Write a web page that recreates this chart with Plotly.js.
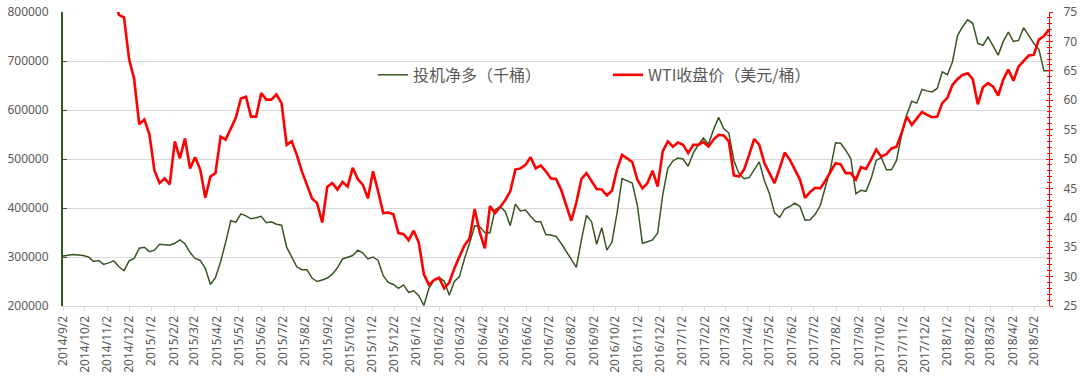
<!DOCTYPE html>
<html>
<head>
<meta charset="utf-8">
<script src="https://cdn.plot.ly/plotly-3.0.1.min.js"></script>
<style>html,body{margin:0;padding:0;background:#fff;}#chart{width:1080px;height:376px;}</style>
</head>
<body>
<div id="chart"></div>
<script>
// Weekly dates (Tuesdays)
var dates = [
"2014-09-02","2014-09-09","2014-09-16","2014-09-23","2014-09-30","2014-10-07","2014-10-14","2014-10-21","2014-10-28","2014-11-04","2014-11-11","2014-11-18","2014-11-25","2014-12-02","2014-12-09","2014-12-16","2014-12-23","2014-12-30",
"2015-01-06","2015-01-13","2015-01-20","2015-01-27","2015-02-03","2015-02-10","2015-02-17","2015-02-24","2015-03-03","2015-03-10","2015-03-17","2015-03-24","2015-03-31","2015-04-07","2015-04-14","2015-04-21","2015-04-28","2015-05-05","2015-05-12","2015-05-19","2015-05-26","2015-06-02","2015-06-09","2015-06-16","2015-06-23","2015-06-30","2015-07-07","2015-07-14","2015-07-21","2015-07-28","2015-08-04","2015-08-11","2015-08-18","2015-08-25","2015-09-01","2015-09-08","2015-09-15","2015-09-22","2015-09-29","2015-10-06","2015-10-13","2015-10-20","2015-10-27","2015-11-03","2015-11-10","2015-11-17","2015-11-24","2015-12-01","2015-12-08","2015-12-15","2015-12-22","2015-12-29",
"2016-01-05","2016-01-12","2016-01-19","2016-01-26","2016-02-02","2016-02-09","2016-02-16","2016-02-23","2016-03-01","2016-03-08","2016-03-15","2016-03-22","2016-03-29","2016-04-05","2016-04-12","2016-04-19","2016-04-26","2016-05-03","2016-05-10","2016-05-17","2016-05-24","2016-05-31","2016-06-07","2016-06-14","2016-06-21","2016-06-28","2016-07-05","2016-07-12","2016-07-19","2016-07-26","2016-08-02","2016-08-09","2016-08-16","2016-08-23","2016-08-30","2016-09-06","2016-09-13","2016-09-20","2016-09-27","2016-10-04","2016-10-11","2016-10-18","2016-10-25","2016-11-01","2016-11-08","2016-11-15","2016-11-22","2016-11-29","2016-12-06","2016-12-13","2016-12-20","2016-12-27",
"2017-01-03","2017-01-10","2017-01-17","2017-01-24","2017-01-31","2017-02-07","2017-02-14","2017-02-21","2017-02-28","2017-03-07","2017-03-14","2017-03-21","2017-03-28","2017-04-04","2017-04-11","2017-04-18","2017-04-25","2017-05-02","2017-05-09","2017-05-16","2017-05-23","2017-05-30","2017-06-06","2017-06-13","2017-06-20","2017-06-27","2017-07-04","2017-07-11","2017-07-18","2017-07-25","2017-08-01","2017-08-08","2017-08-15","2017-08-22","2017-08-29","2017-09-05","2017-09-12","2017-09-19","2017-09-26","2017-10-03","2017-10-10","2017-10-17","2017-10-24","2017-10-31","2017-11-07","2017-11-14","2017-11-21","2017-11-28","2017-12-05","2017-12-12","2017-12-19","2017-12-26",
"2018-01-02","2018-01-09","2018-01-16","2018-01-23","2018-01-30","2018-02-06","2018-02-13","2018-02-20","2018-02-27","2018-03-06","2018-03-13","2018-03-20","2018-03-27","2018-04-03","2018-04-10","2018-04-17","2018-04-24","2018-05-01","2018-05-08","2018-05-15","2018-05-22"
];

// 投机净多（千桶）
var netLong = [
302000,303000,305000,304000,303000,300000,291000,293000,285000,288000,292000,280000,272000,292000,297000,318000,320000,311000,
314000,326000,325000,324000,328000,335000,327000,309000,297000,293000,277000,244000,258000,290000,330000,374000,371000,388000,384000,378000,380000,383000,370000,372000,367000,365000,320000,300000,280000,274000,274000,257000,250000,253000,257000,265000,278000,296000,299000,303000,314000,308000,296000,300000,293000,262000,248000,244000,236000,243000,228000,231000,
221000,201000,236000,253000,258000,251000,222000,250000,260000,297000,328000,364000,362000,350000,349000,396000,403000,393000,364000,408000,394000,396000,383000,372000,372000,346000,345000,342000,328000,311000,294000,279000,335000,385000,372000,326000,360000,314000,330000,389000,460000,455000,451000,406000,328000,331000,335000,349000,427000,481000,496000,502000,
500000,485000,512000,529000,543000,530000,560000,585000,562000,553000,497000,470000,460000,462000,477000,494000,456000,429000,390000,381000,398000,403000,410000,403000,375000,376000,387000,405000,443000,480000,533000,532000,518000,501000,429000,436000,434000,460000,497000,503000,478000,478000,497000,550000,590000,618000,614000,642000,639000,637000,644000,678000,
672000,698000,752000,770000,784000,777000,736000,732000,749000,730000,712000,740000,759000,740000,742000,768000,753000,736000,724000,680000,680000
];

// WTI收盘价（美元/桶）
var wti = [
92.9,92.8,94.9,91.6,91.2,88.9,81.8,82.5,81.4,77.2,77.9,74.5,74.1,67.0,63.6,55.9,56.7,54.2,
48.0,45.9,46.7,45.7,53.0,50.1,53.5,48.4,50.3,48.2,43.4,47.0,47.6,53.8,53.3,55.2,57.0,60.3,60.6,57.2,57.2,61.2,60.1,60.1,61.0,59.5,52.4,53.0,50.7,47.9,45.6,43.3,42.5,39.2,45.3,45.9,44.8,46.1,45.3,48.5,46.6,45.6,43.3,47.9,44.5,40.8,40.9,40.6,37.4,37.2,36.2,37.8,
35.8,30.4,28.6,29.4,29.8,28.0,29.0,31.4,33.4,35.3,36.5,41.5,37.5,34.8,42.0,40.8,41.8,43.0,44.5,48.2,48.4,49.0,50.3,48.4,48.9,47.9,46.7,46.6,44.8,42.3,39.5,42.6,46.6,47.6,46.3,44.9,44.8,43.8,44.6,48.2,50.7,50.1,49.5,46.5,45.0,45.9,48.0,45.3,51.3,53.0,52.1,52.8,
52.4,51.0,52.4,52.4,52.9,52.1,53.3,54.1,54.0,53.0,47.2,47.0,48.2,50.7,53.4,52.4,49.3,47.6,45.9,48.4,51.1,49.9,48.2,46.5,43.4,44.4,45.1,45.0,46.3,47.9,49.3,49.1,47.6,47.6,46.5,48.6,48.3,49.9,51.6,50.4,50.8,51.8,52.1,54.4,57.2,55.8,57.0,58.0,57.5,57.1,57.2,59.5,
60.4,62.6,63.6,64.3,64.6,63.6,59.3,62.2,62.9,62.3,60.8,63.5,65.2,63.3,65.7,66.7,67.6,67.7,70.3,70.9,72.0
];

var seriesNames = ["投机净多（千桶）", "WTI收盘价（美元/桶）"];
var leftTicks = [200000, 300000, 400000, 500000, 600000, 700000, 800000];
var rightTicks = [25, 30, 35, 40, 45, 50, 55, 60, 65, 70, 75];

var GREEN = "#375623", RED = "#ff0000", GRAY = "#595959", GRID = "#d9d9d9";
var FONT = "'Noto Sans', 'Noto Sans CJK SC', sans-serif";

var traces = [
  {x: dates, y: netLong, name: seriesNames[0], type: "scatter", mode: "lines",
   line: {color: GREEN, width: 1.5}, yaxis: "y", hoverinfo: "x+y"},
  {x: dates, y: wti, name: seriesNames[1], type: "scatter", mode: "lines",
   line: {color: RED, width: 2.6}, yaxis: "y2", hoverinfo: "x+y"},
  {x: [dates[0]], y: [null], yaxis: "y3", showlegend: false, hoverinfo: "skip", mode: "lines"}
];

var layout = {
  width: 1080, height: 376,
  margin: {l: 63, r: 31, t: 12, b: 70, pad: 0},
  paper_bgcolor: "#ffffff", plot_bgcolor: "#ffffff",
  font: {family: FONT, size: 12, color: GRAY},
  showlegend: true,
  legend: {orientation: "h", x: 0.3144, xanchor: "left", y: 0.786, yanchor: "middle",
           font: {family: "'Noto Sans CJK SC', sans-serif", size: 16, color: GRAY},
           bgcolor: "rgba(0,0,0,0)", entrywidth: 190, entrywidthmode: "pixels",
           itemwidth: 30, tracegroupgap: 0},
  xaxis: {type: "date", range: [dates[0], dates[dates.length - 1]],
          tick0: "2014-09-02", dtick: "M1", tickformat: "%Y/%-m/%-d", tickangle: -90,
          ticks: "outside", ticklen: 4, tickcolor: GRID, showline: true, linecolor: GRID, linewidth: 1,
          showgrid: false, zeroline: false, tickfont: {size: 12, color: GRAY}, fixedrange: true},
  yaxis: {range: [leftTicks[0], leftTicks[leftTicks.length - 1]], tickvals: leftTicks, tickformat: "d",
          showgrid: true, gridcolor: GRID, gridwidth: 1, showline: true, linecolor: GREEN, linewidth: 2,
          ticks: "inside", ticklen: 4, tickcolor: GREEN, zeroline: false,
          tickfont: {size: 12, color: GRAY}, ticklabelstandoff: 10, fixedrange: true},
  yaxis2: {overlaying: "y", side: "right", anchor: "x",
           range: [rightTicks[0], rightTicks[rightTicks.length - 1]], tickvals: rightTicks,
           showgrid: false, showline: true, linecolor: RED, linewidth: 1, zeroline: false,
           ticks: "outside", ticklen: 3, tickcolor: RED, tickwidth: 1,
           minor: {dtick: 1, ticks: "outside", ticklen: 2, tickcolor: RED, showgrid: false},
           tickfont: {size: 12, color: GRAY}, ticklabelstandoff: 8, fixedrange: true},
  yaxis3: {overlaying: "y", side: "right", anchor: "x",
           range: [rightTicks[0], rightTicks[rightTicks.length - 1]], tickvals: rightTicks,
           showgrid: false, showline: false, zeroline: false, showticklabels: false,
           ticks: "inside", ticklen: 3, tickcolor: RED, tickwidth: 1,
           minor: {dtick: 1, ticks: "inside", ticklen: 2, tickcolor: RED, showgrid: false},
           fixedrange: true}
};

Plotly.newPlot("chart", traces, layout, {displayModeBar: false, staticPlot: true});
</script>
</body>
</html>
